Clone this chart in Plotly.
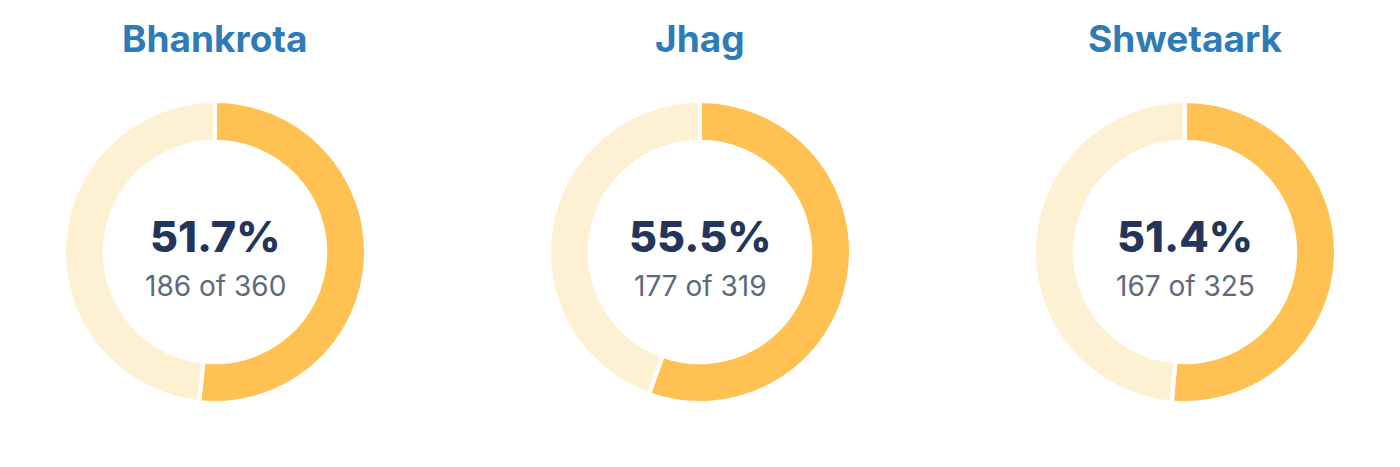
import plotly.graph_objects as go

# data
regions = ["Bhankrota", "Jhag", "Shwetaark"]
matched = [186, 177, 167]
totals = [360, 319, 325]

fill_color = "#FFC252"
rest_color = "#FEF0D3"
title_color = "#2E7BB6"
pct_color = "#23365A"
sub_color = "#5E6A7C"
font_family = "Inter, 'Open Sans', sans-serif"

W, H = 1400, 467
off = 8  # page body margin
centers_x = [215 - off, 700 - off, 1185 - off]
center_y = 252 - off
radius = 151


def px_y(y):
    return 1 - (y - off) / H


fig = go.Figure()
for name, m, t, cx in zip(regions, matched, totals, centers_x):
    x0, x1 = (cx - radius) / W, (cx + radius) / W
    y0, y1 = 1 - (center_y + radius) / H, 1 - (center_y - radius) / H
    fig.add_trace(go.Pie(
        values=[m, t - m],
        labels=["matched", "other"],
        hole=0.73,
        sort=False,
        direction="clockwise",
        rotation=0,
        textinfo="none",
        hoverinfo="label+value",
        marker=dict(colors=[fill_color, rest_color], line=dict(color="white", width=4)),
        domain=dict(x=[x0, x1], y=[y0, y1]),
        showlegend=False,
    ))
    common = dict(x=cx / W, xref="paper", yref="paper", showarrow=False,
                  xanchor="center", yanchor="middle")
    fig.add_annotation(y=px_y(38), text=name,
                       font=dict(family=font_family, size=37, color=title_color, weight=700), **common)
    fig.add_annotation(y=px_y(236), text=f"{100 * m / t:.1f}%",
                       font=dict(family=font_family, size=43, color=pct_color, weight=800), **common)
    fig.add_annotation(y=px_y(286), text=f"{m} of {t}",
                       font=dict(family=font_family, size=28, color=sub_color), **common)

fig.update_layout(
    width=W, height=H,
    margin=dict(l=0, r=0, t=0, b=0),
    paper_bgcolor="white",
    plot_bgcolor="white",
)

fig.write_html("out.html")
